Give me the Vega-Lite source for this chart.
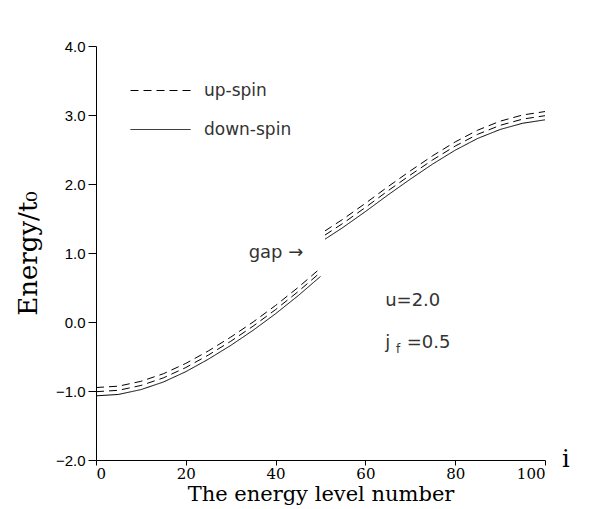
{
  "$schema": "https://vega.github.io/schema/vega-lite/v6.json",
  "autosize": "none",
  "width": 449,
  "height": 414,
  "padding": {"left": 96, "top": 46, "right": 48, "bottom": 49},
  "background": "white",
  "config": {
    "view": {"stroke": null},
    "axis": {"grid": false, "domainColor": "black", "tickColor": "black", "labelColor": "black", "titleColor": "black", "titleFont": "DejaVu Serif", "titleFontWeight": "normal", "domainWidth": 1, "tickWidth": 1}
  },
  "datasets": {
    "curves": [
      {"curve": "down-a", "spin": "down-spin", "i": 0, "E": -1.07},
      {"curve": "down-a", "spin": "down-spin", "i": 5, "E": -1.05},
      {"curve": "down-a", "spin": "down-spin", "i": 10, "E": -0.98},
      {"curve": "down-a", "spin": "down-spin", "i": 15, "E": -0.87},
      {"curve": "down-a", "spin": "down-spin", "i": 20, "E": -0.72},
      {"curve": "down-a", "spin": "down-spin", "i": 25, "E": -0.54},
      {"curve": "down-a", "spin": "down-spin", "i": 30, "E": -0.34},
      {"curve": "down-a", "spin": "down-spin", "i": 35, "E": -0.12},
      {"curve": "down-a", "spin": "down-spin", "i": 40, "E": 0.12},
      {"curve": "down-a", "spin": "down-spin", "i": 45, "E": 0.38},
      {"curve": "down-a", "spin": "down-spin", "i": 50, "E": 0.66},
      {"curve": "down-b", "spin": "down-spin", "i": 51, "E": 1.20},
      {"curve": "down-b", "spin": "down-spin", "i": 55, "E": 1.37},
      {"curve": "down-b", "spin": "down-spin", "i": 60, "E": 1.60},
      {"curve": "down-b", "spin": "down-spin", "i": 65, "E": 1.84},
      {"curve": "down-b", "spin": "down-spin", "i": 70, "E": 2.07},
      {"curve": "down-b", "spin": "down-spin", "i": 75, "E": 2.29},
      {"curve": "down-b", "spin": "down-spin", "i": 80, "E": 2.49},
      {"curve": "down-b", "spin": "down-spin", "i": 85, "E": 2.66},
      {"curve": "down-b", "spin": "down-spin", "i": 90, "E": 2.79},
      {"curve": "down-b", "spin": "down-spin", "i": 95, "E": 2.88},
      {"curve": "down-b", "spin": "down-spin", "i": 100, "E": 2.93},
      {"curve": "up2-a", "spin": "up-spin", "i": 0, "E": -1.01},
      {"curve": "up2-a", "spin": "up-spin", "i": 5, "E": -0.99},
      {"curve": "up2-a", "spin": "up-spin", "i": 10, "E": -0.92},
      {"curve": "up2-a", "spin": "up-spin", "i": 15, "E": -0.81},
      {"curve": "up2-a", "spin": "up-spin", "i": 20, "E": -0.66},
      {"curve": "up2-a", "spin": "up-spin", "i": 25, "E": -0.48},
      {"curve": "up2-a", "spin": "up-spin", "i": 30, "E": -0.28},
      {"curve": "up2-a", "spin": "up-spin", "i": 35, "E": -0.06},
      {"curve": "up2-a", "spin": "up-spin", "i": 40, "E": 0.18},
      {"curve": "up2-a", "spin": "up-spin", "i": 45, "E": 0.44},
      {"curve": "up2-a", "spin": "up-spin", "i": 50, "E": 0.72},
      {"curve": "up2-b", "spin": "up-spin", "i": 51, "E": 1.26},
      {"curve": "up2-b", "spin": "up-spin", "i": 55, "E": 1.43},
      {"curve": "up2-b", "spin": "up-spin", "i": 60, "E": 1.66},
      {"curve": "up2-b", "spin": "up-spin", "i": 65, "E": 1.90},
      {"curve": "up2-b", "spin": "up-spin", "i": 70, "E": 2.13},
      {"curve": "up2-b", "spin": "up-spin", "i": 75, "E": 2.35},
      {"curve": "up2-b", "spin": "up-spin", "i": 80, "E": 2.55},
      {"curve": "up2-b", "spin": "up-spin", "i": 85, "E": 2.72},
      {"curve": "up2-b", "spin": "up-spin", "i": 90, "E": 2.85},
      {"curve": "up2-b", "spin": "up-spin", "i": 95, "E": 2.94},
      {"curve": "up2-b", "spin": "up-spin", "i": 100, "E": 2.99},
      {"curve": "up1-a", "spin": "up-spin", "i": 0, "E": -0.95},
      {"curve": "up1-a", "spin": "up-spin", "i": 5, "E": -0.93},
      {"curve": "up1-a", "spin": "up-spin", "i": 10, "E": -0.86},
      {"curve": "up1-a", "spin": "up-spin", "i": 15, "E": -0.75},
      {"curve": "up1-a", "spin": "up-spin", "i": 20, "E": -0.60},
      {"curve": "up1-a", "spin": "up-spin", "i": 25, "E": -0.42},
      {"curve": "up1-a", "spin": "up-spin", "i": 30, "E": -0.22},
      {"curve": "up1-a", "spin": "up-spin", "i": 35, "E": 0.00},
      {"curve": "up1-a", "spin": "up-spin", "i": 40, "E": 0.24},
      {"curve": "up1-a", "spin": "up-spin", "i": 45, "E": 0.50},
      {"curve": "up1-a", "spin": "up-spin", "i": 50, "E": 0.78},
      {"curve": "up1-b", "spin": "up-spin", "i": 51, "E": 1.32},
      {"curve": "up1-b", "spin": "up-spin", "i": 55, "E": 1.49},
      {"curve": "up1-b", "spin": "up-spin", "i": 60, "E": 1.72},
      {"curve": "up1-b", "spin": "up-spin", "i": 65, "E": 1.96},
      {"curve": "up1-b", "spin": "up-spin", "i": 70, "E": 2.19},
      {"curve": "up1-b", "spin": "up-spin", "i": 75, "E": 2.41},
      {"curve": "up1-b", "spin": "up-spin", "i": 80, "E": 2.61},
      {"curve": "up1-b", "spin": "up-spin", "i": 85, "E": 2.78},
      {"curve": "up1-b", "spin": "up-spin", "i": 90, "E": 2.91},
      {"curve": "up1-b", "spin": "up-spin", "i": 95, "E": 3.00},
      {"curve": "up1-b", "spin": "up-spin", "i": 100, "E": 3.05}
    ],
    "notes": [
      {"i": 34, "E": 1.0, "text": "gap →"},
      {"i": 64.4, "E": 0.3, "text": "u=2.0"},
      {"i": 64.4, "E": -0.3, "text": "j"},
      {"i": 69.2, "E": -0.3, "text": "=0.5"}
    ],
    "subs": [
      {"i": 66.8, "E": -0.39, "text": "f"}
    ],
    "xlabel": [
      {"i": 103.8, "E": -2.0, "text": "i"}
    ]
  },
  "layer": [
    {
      "data": {"name": "curves"},
      "mark": {"type": "line", "strokeWidth": 1, "color": "black"},
      "encoding": {
        "x": {"field": "i", "type": "quantitative", "scale": {"domain": [0, 100]},
          "axis": {"values": [0, 20, 40, 60, 80, 100], "title": "The energy level number", "labelFont": "DejaVu Serif", "labelFontSize": 15, "titleFontSize": 21, "labelPadding": 1, "titlePadding": 2, "tickSize": 5}},
        "y": {"field": "E", "type": "quantitative", "scale": {"domain": [-2, 4]},
          "axis": {"values": [-2, -1, 0, 1, 2, 3, 4], "format": ".1f", "title": "Energy/t₀", "labelFont": "Liberation Sans", "labelFontSize": 15, "titleFontSize": 26, "tickSize": 8, "labelPadding": 3, "titlePadding": 14}},
        "detail": {"field": "curve"},
        "strokeDash": {"field": "spin", "type": "nominal",
          "scale": {"domain": ["up-spin", "down-spin"], "range": [[8, 5], [1, 0]]},
          "legend": {"orient": "none", "legendX": 34, "legendY": 14, "title": null, "symbolType": "stroke", "symbolSize": 3600, "symbolStrokeColor": "black", "symbolStrokeWidth": 1, "labelFont": "DejaVu Sans", "labelFontSize": 17, "labelColor": "#333", "labelOffset": 13, "rowPadding": -2}}
      }
    },
    {
      "data": {"name": "notes"},
      "mark": {"type": "text", "align": "left", "baseline": "middle", "font": "DejaVu Sans", "fontSize": 18, "color": "#333"},
      "encoding": {
        "x": {"field": "i", "type": "quantitative"},
        "y": {"field": "E", "type": "quantitative"},
        "text": {"field": "text"}
      }
    },
    {
      "data": {"name": "subs"},
      "mark": {"type": "text", "align": "left", "baseline": "middle", "font": "DejaVu Sans", "fontSize": 12, "color": "#333"},
      "encoding": {
        "x": {"field": "i", "type": "quantitative"},
        "y": {"field": "E", "type": "quantitative"},
        "text": {"field": "text"}
      }
    },
    {
      "data": {"name": "xlabel"},
      "mark": {"type": "text", "align": "left", "baseline": "middle", "font": "DejaVu Serif", "fontSize": 24, "color": "black"},
      "encoding": {
        "x": {"field": "i", "type": "quantitative"},
        "y": {"field": "E", "type": "quantitative"},
        "text": {"field": "text"}
      }
    }
  ]
}
